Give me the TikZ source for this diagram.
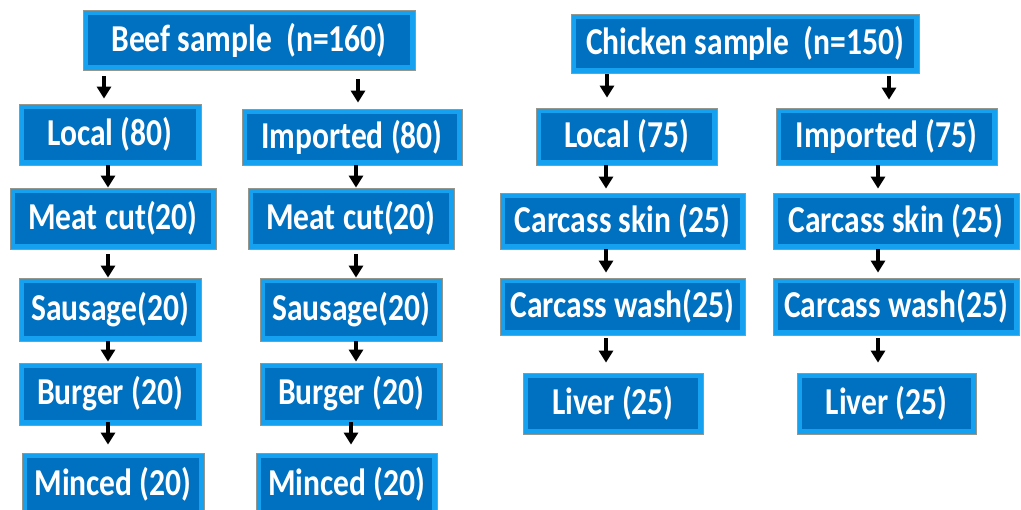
\documentclass[tikz,border=0pt]{standalone}
\usepackage{fontspec}
\setmainfont{Carlito}[FakeStretch=0.83]
\usetikzlibrary{arrows.meta}
\definecolor{inner}{RGB}{0,112,192}
\definecolor{bevel}{RGB}{22,160,240}
\definecolor{edge}{RGB}{150,150,140}
\tikzset{
  box/.style={draw=edge, line width=0.8pt, fill=bevel, inner sep=0pt,
    text=white, font=\fontsize{38}{40}\selectfont\bfseries,
    path picture={\fill[inner]
      ([shift={(5pt,-5pt)}]path picture bounding box.north west) rectangle
      ([shift={(-5pt,5pt)}]path picture bounding box.south east);}},
  arr/.style={draw=black, line width=3.3pt, -{Triangle[width=14pt,length=12pt]}}
}
\begin{document}
\begin{tikzpicture}[x=1pt,y=-1pt]
\useasboundingbox (0,0) rectangle (1021,510);
% beef
\node[box, minimum width=332pt, minimum height=60pt] (beef) at (249,40) {Beef sample\ \ (n=160)};
\node[box, minimum width=182pt, minimum height=61pt] (bl) at (110,134.5) {Local (80)};
\node[box, minimum width=220pt, minimum height=56pt] (bi) at (352,137) {Imported (80)};
\node[box, minimum width=206pt, minimum height=61pt] (blb) at (113,218.5) {Meat cut(20)};
\node[box, minimum width=206pt, minimum height=61pt] (bib) at (351,218.5) {Meat cut(20)};
\node[box, minimum width=182pt, minimum height=63pt] (blc) at (110,309.5) {Sausage(20)};
\node[box, minimum width=182pt, minimum height=63pt] (bic) at (351,309.5) {Sausage(20)};
\node[box, minimum width=182pt, minimum height=62pt] (bld) at (110,394) {Burger (20)};
\node[box, minimum width=182pt, minimum height=62pt] (bid) at (351,394) {Burger (20)};
\node[box, minimum width=182pt, minimum height=62pt] (ble) at (113,484) {Minced (20)};
\node[box, minimum width=181pt, minimum height=62pt] (bie) at (346.5,484) {Minced (20)};
% chicken
\node[box, minimum width=348pt, minimum height=59pt] (chk) at (745,43.5) {Chicken sample\ \ (n=150)};
\node[box, minimum width=181pt, minimum height=57pt] (cl) at (626.5,136.5) {Local (75)};
\node[box, minimum width=221pt, minimum height=57pt] (ci) at (886.5,136.5) {Imported (75)};
\node[box, minimum width=245pt, minimum height=56pt] (clb) at (622.5,221) {Carcass skin (25)};
\node[box, minimum width=246pt, minimum height=56pt] (cib) at (896,221) {Carcass skin (25)};
\node[box, minimum width=245pt, minimum height=57pt] (clc) at (622.5,306.5) {Carcass wash(25)};
\node[box, minimum width=246pt, minimum height=57pt] (cic) at (896,306.5) {Carcass wash(25)};
\node[box, minimum width=180pt, minimum height=61pt] (cld) at (613,403.5) {Liver (25)};
\node[box, minimum width=179pt, minimum height=61pt] (cid) at (886.5,403.5) {Liver (25)};
% arrows beef
\draw[arr, shorten <=6pt, shorten >=5pt] (104,0 |- beef.south) -- (104,0 |- bl.north);
\draw[arr, shorten <=9pt, shorten >=6pt] (358,0 |- beef.south) -- (358,0 |- bi.north);
\draw[arr] (108,0 |- bl.south) -- (108,0 |- blb.north);
\draw[arr] (356,0 |- bi.south) -- (356,0 |- bib.north);
\draw[arr, shorten <=5pt] (108,0 |- blb.south) -- (108,0 |- blc.north);
\draw[arr, shorten <=5pt] (356,0 |- bib.south) -- (356,0 |- bic.north);
\draw[arr, shorten >=1pt] (108,0 |- blc.south) -- (108,0 |- bld.north);
\draw[arr, shorten >=1pt] (356,0 |- bic.south) -- (356,0 |- bid.north);
\draw[arr, shorten <=-3pt, shorten >=8pt] (108,0 |- bld.south) -- (108,0 |- ble.north);
\draw[arr, shorten <=-3pt, shorten >=8pt] (351,0 |- bid.south) -- (351,0 |- bie.north);
% arrows chicken
\draw[arr, shorten <=1pt, shorten >=10pt] (607,0 |- chk.south) -- (607,0 |- cl.north);
\draw[arr, shorten <=3pt, shorten >=8pt] (889,0 |- chk.south) -- (889,0 |- ci.north);
\draw[arr, shorten >=4pt] (606,0 |- cl.south) -- (606,0 |- clb.north);
\draw[arr, shorten >=4pt] (878,0 |- ci.south) -- (878,0 |- cib.north);
\draw[arr, shorten >=5pt] (606,0 |- clb.south) -- (606,0 |- clc.north);
\draw[arr, shorten >=5pt] (878,0 |- cib.south) -- (878,0 |- cic.north);
\draw[arr, shorten <=3pt, shorten >=10pt] (606,0 |- clc.south) -- (606,0 |- cld.north);
\draw[arr, shorten <=3pt, shorten >=10pt] (878,0 |- cic.south) -- (878,0 |- cid.north);
\end{tikzpicture}
\end{document}
